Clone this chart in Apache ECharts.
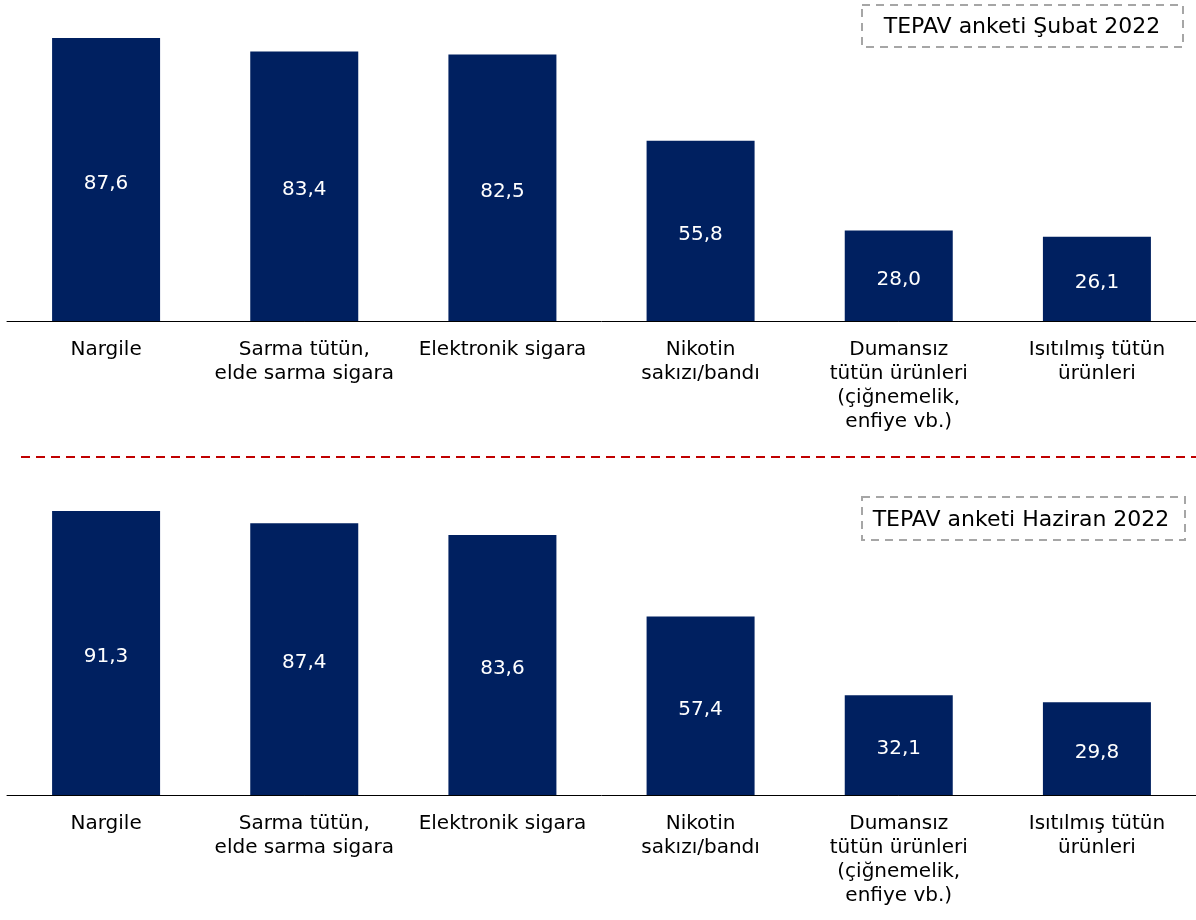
<!DOCTYPE html>
<html>
<head>
<meta charset="utf-8">
<script src="https://cdn.jsdelivr.net/npm/echarts@6/dist/echarts.min.js"></script>
<style>
html,body{margin:0;padding:0;background:#fff;}
#chart{width:1196px;height:920px;}
</style>
</head>
<body>
<div id="chart"></div>
<script>
const categories = [
  'Nargile',
  'Sarma tütün,\nelde sarma sigara',
  'Elektronik sigara',
  'Nikotin\nsakızı/bandı',
  'Dumansız\ntütün ürünleri\n(çiğnemelik,\nenfiye vb.)',
  'Isıtılmış tütün\nürünleri'
];
const valuesFeb = [87.6, 83.4, 82.5, 55.8, 28.0, 26.1];
const valuesJun = [91.3, 87.4, 83.6, 57.4, 32.1, 29.8];
const titleFeb = 'TEPAV anketi Şubat 2022';
const titleJun = 'TEPAV anketi Haziran 2022';

const FONT = 'DejaVu Sans';
const BAR = '#002060';

const chart = echarts.init(document.getElementById('chart'), null, {renderer: 'canvas'});

function xAx(gi) {
  return {
    type: 'category', gridIndex: gi, data: categories,
    axisLine: {show: true, lineStyle: {color: '#000', width: 1}},
    axisTick: {show: false},
    axisLabel: {color: '#000', fontFamily: FONT, fontSize: 20, lineHeight: 24, margin: 17, interval: 0}
  };
}
function yAx(gi) {
  return {type: 'value', gridIndex: gi, min: 0, max: 'dataMax', show: false, splitLine: {show: false}};
}
function ser(i, vals) {
  return {
    type: 'bar', xAxisIndex: i, yAxisIndex: i, data: vals, barWidth: '54.5%',
    itemStyle: {color: BAR},
    label: {show: true, position: 'inside', offset: [0, 4], color: '#fff', fontFamily: FONT, fontSize: 20,
      formatter: p => p.value.toFixed(1).replace('.', ',')},
    silent: true
  };
}

chart.setOption({
  animation: false,
  grid: [
    {left: 7, right: 0, top: 38, height: 283},
    {left: 7, right: 0, top: 511, height: 284}
  ],
  xAxis: [xAx(0), xAx(1)],
  yAxis: [yAx(0), yAx(1)],
  series: [ser(0, valuesFeb), ser(1, valuesJun)],
  graphic: [
    {type: 'line', shape: {x1: 21, y1: 457, x2: 1196, y2: 457},
      style: {stroke: '#c00000', lineWidth: 2, lineDash: [9, 6]}},
    {type: 'rect', shape: {x: 862, y: 5, width: 321, height: 42},
      style: {fill: 'none', stroke: '#a6a6a6', lineWidth: 2, lineDash: [8, 6]}},
    {type: 'text', x: 1022, y: 27,
      style: {text: titleFeb, fill: '#000', font: '22px "DejaVu Sans"', align: 'center', verticalAlign: 'middle'}},
    {type: 'rect', shape: {x: 862, y: 497, width: 323, height: 43},
      style: {fill: 'none', stroke: '#a6a6a6', lineWidth: 2, lineDash: [8, 6]}},
    {type: 'text', x: 1021, y: 520,
      style: {text: titleJun, fill: '#000', font: '22px "DejaVu Sans"', align: 'center', verticalAlign: 'middle'}}
  ]
});
</script>
</body>
</html>
